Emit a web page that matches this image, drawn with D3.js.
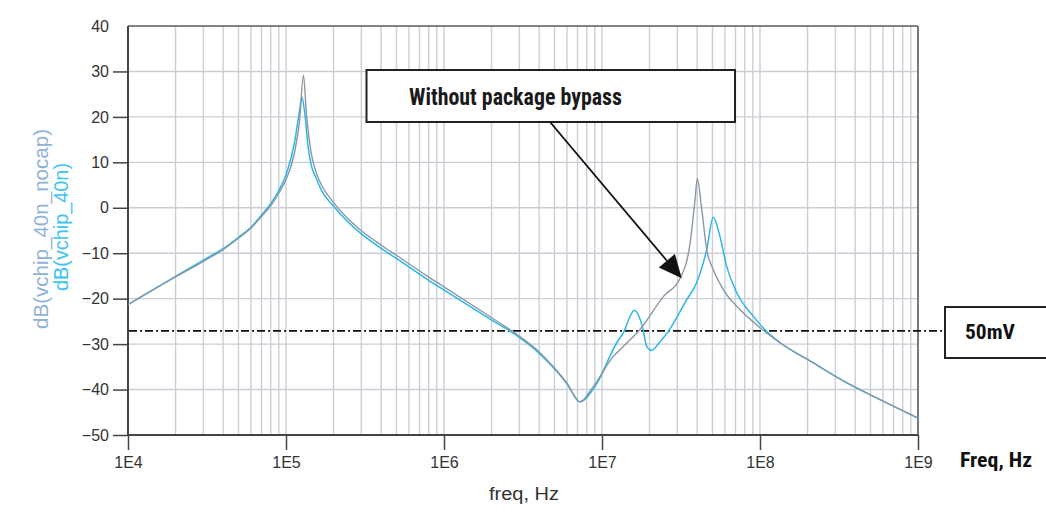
<!DOCTYPE html>
<html>
<head>
<meta charset="utf-8">
<script src="https://cdn.jsdelivr.net/npm/d3@7"></script>
<style>
  html, body { margin: 0; padding: 0; background: #ffffff; }
  svg { display: block; }
</style>
</head>
<body>
<svg id="chart" width="1046" height="512"></svg>
<script>
// Frequency response of the chip supply node, two cases (dB vs Hz)
const xTickValues = [1e4, 1e5, 1e6, 1e7, 1e8, 1e9];
const xTickLabels = ["1E4", "1E5", "1E6", "1E7", "1E8", "1E9"];
const yTickValues = [40, 30, 20, 10, 0, -10, -20, -30, -40, -50];

// dB(vchip_40n_nocap): without package bypass capacitor
const freqNocap = [1e4, 2e4, 3e4, 4e4, 5e4, 6e4, 7e4, 8e4, 9e4, 1e5, 1.13e5, 1.22e5, 1.29e5,
  1.348e5, 1.439e5, 1.548e5, 1.69e5, 1.984e5, 2.433e5, 3.014e5, 4.034e5, 5.019e5, 7.955e5, 1e6,
  2.004e6, 2.745e6, 4.052e6, 5.977e6, 7.257e6, 8.82e6, 1.18e7, 1.365e7, 1.74e7, 2.45e7,
  3.12e7, 3.61e7, 3.88e7, 4.01e7, 4.28e7, 4.6e7, 5.06e7, 5.86e7, 7.47e7, 1e8, 1.34e8,
  2.17e8, 3.54e8, 5.75e8, 1e9];
const dbNocap = [-21.3, -15.2, -11.8, -9.2, -6.7, -4.5, -1.9, 0.4, 3.2, 6.2, 12.0, 19.3, 29.2,
  20.4, 12.3, 7.9, 4.8, 1.3, -2.2, -5.1, -8.3, -10.5, -15.2, -17.4,
  -24.2, -27.3, -31.9, -38.5, -42.7, -39.3, -32.7, -30.5, -26.8, -19.5,
  -15.5, -7.8, 1.8, 6.4, -0.4, -9.2, -13.6, -18.0, -22.4, -26.4, -29.7,
  -34.1, -38.5, -42.2, -46.3];

// dB(vchip_40n): with package bypass capacitor
const freq40n = [1e4, 2e4, 3e4, 4e4, 5e4, 6e4, 7e4, 8e4, 9e4, 1e5, 1.13e5, 1.22e5, 1.26e5,
  1.319e5, 1.378e5, 1.44e5, 1.548e5, 1.69e5, 1.984e5, 2.433e5, 3.014e5, 4.034e5, 5.019e5,
  7.955e5, 1e6, 2.004e6, 2.745e6, 4.052e6, 5.977e6, 7.257e6, 9.04e6, 1.24e7, 1.365e7, 1.6e7,
  1.8e7, 1.92e7, 2.065e7, 2.3e7, 2.63e7, 3.44e7, 3.97e7, 4.6e7, 5.06e7, 5.58e7, 6.15e7,
  7.13e7, 9.08e7, 1.1e8, 1.34e8, 2.17e8, 3.54e8, 5.75e8, 1e9];
const db40n = [-21.3, -15.1, -11.5, -9.0, -6.5, -4.3, -1.6, 0.9, 3.8, 7.2, 14.2, 21.5, 24.4,
  20.4, 13.5, 9.6, 6.6, 3.6, 0.5, -2.9, -5.8, -9.0, -11.2,
  -15.9, -18.1, -24.7, -27.6, -32.2, -38.6, -42.7, -39.3, -29.7, -27.5, -22.6,
  -26.1, -30.5, -31.4, -29.7, -27.2, -20.2, -16.5, -9.2, -2.1, -6.3, -12.9,
  -18.7, -23.9, -27.2, -29.7, -34.1, -38.5, -42.2, -46.3];

// 50 mV reference level
const limitDb = -27.1;
const limitLabel = "50mV";
const noteLabel = "Without package bypass";

const svg = d3.select("#chart");
const plotLeft = 128, plotRight = 918, plotTop = 26, plotBottom = 435;

const x = d3.scaleLog().domain([1e4, 1e9]).range([plotLeft, plotRight]);
const y = d3.scaleLinear().domain([-50, 40]).range([plotBottom, plotTop]);

const sans = "'Liberation Sans', Arial, Helvetica, sans-serif";
const boldNarrow = "'Liberation Sans Narrow', 'Roboto Condensed', 'DejaVu Sans Condensed', 'Liberation Sans', Arial, sans-serif";

// grid
const minorFreqs = [];
for (let e = 4; e < 9; e++) for (let m = 1; m <= 9; m++) minorFreqs.push(m * Math.pow(10, e));
minorFreqs.push(1e9);

const grid = svg.append("g").attr("stroke", "#cbced6").attr("stroke-width", 1.4);
grid.selectAll("line.v").data(minorFreqs).join("line")
  .attr("x1", d => x(d)).attr("x2", d => x(d))
  .attr("y1", plotTop).attr("y2", plotBottom);
grid.selectAll("line.h").data(yTickValues.filter(v => v > -50 && v < 40)).join("line")
  .attr("x1", plotLeft).attr("x2", plotRight)
  .attr("y1", d => y(d)).attr("y2", d => y(d));

// frame
svg.append("line").attr("x1", plotLeft).attr("x2", plotRight).attr("y1", plotTop).attr("y2", plotTop)
  .attr("stroke", "#5a5a5a").attr("stroke-width", 1.5);
svg.append("line").attr("x1", plotRight).attr("x2", plotRight).attr("y1", plotTop).attr("y2", plotBottom)
  .attr("stroke", "#5a5a5a").attr("stroke-width", 1.5);

// axes
const yAxis = svg.append("g").attr("transform", `translate(${plotLeft},0)`)
  .call(d3.axisLeft(y).tickValues(yTickValues).tickSize(15).tickPadding(4).tickFormat(d3.format("d")));
yAxis.select(".domain").remove();
yAxis.selectAll(".tick line").attr("stroke", "#444").attr("stroke-width", 1.5)
  .filter(d => d === 40).remove();
yAxis.selectAll(".tick text").attr("font-family", sans).attr("font-size", 16).attr("fill", "#333");

const xAxis = svg.append("g").attr("transform", `translate(0,${plotBottom})`)
  .call(d3.axisBottom(x).tickValues(xTickValues).tickSize(15).tickPadding(7)
    .tickFormat((d, i) => xTickLabels[i]));
xAxis.select(".domain").remove();
xAxis.selectAll(".tick line").attr("stroke", "#444").attr("stroke-width", 1.5);
xAxis.selectAll(".tick text").attr("font-family", sans).attr("font-size", 16).attr("fill", "#333");

svg.append("line").attr("x1", plotLeft).attr("x2", plotLeft).attr("y1", plotTop).attr("y2", plotBottom)
  .attr("stroke", "#444").attr("stroke-width", 2);
svg.append("line").attr("x1", plotLeft).attr("x2", plotRight).attr("y1", plotBottom).attr("y2", plotBottom)
  .attr("stroke", "#444").attr("stroke-width", 2);

// reference level
svg.append("line")
  .attr("x1", plotLeft + 1).attr("x2", 946)
  .attr("y1", y(limitDb)).attr("y2", y(limitDb))
  .attr("stroke", "#111").attr("stroke-width", 1.8)
  .attr("stroke-dasharray", "8,3,2,3");

// traces
const line = d3.line().x(d => x(d[0])).y(d => y(d[1])).curve(d3.curveMonotoneX);
const series = [
  { f: freq40n, v: db40n, color: "#2bb6e6", w: 1.5 },
  { f: freqNocap, v: dbNocap, color: "#8b97a6", w: 1.4 }
];
series.forEach(s => {
  svg.append("path")
    .datum(s.f.map((f, i) => [f, s.v[i]]))
    .attr("fill", "none")
    .attr("stroke", s.color)
    .attr("stroke-width", s.w)
    .attr("stroke-linejoin", "round")
    .attr("d", line);
});

// axis titles
svg.append("text").attr("x", 524).attr("y", 500).attr("text-anchor", "middle")
  .attr("font-family", sans).attr("font-size", 18).attr("fill", "#333")
  .attr("textLength", 70).attr("lengthAdjust", "spacingAndGlyphs")
  .text("freq, Hz");

svg.append("text").attr("transform", "translate(48,229) rotate(-90)").attr("text-anchor", "middle")
  .attr("font-family", sans).attr("font-size", 19.5).attr("fill", "#8fb2d6")
  .attr("textLength", 200).attr("lengthAdjust", "spacingAndGlyphs")
  .text("dB(vchip_40n_nocap)");
svg.append("text").attr("transform", "translate(68,227) rotate(-90)").attr("text-anchor", "middle")
  .attr("font-family", sans).attr("font-size", 19.5).attr("fill", "#3ec3f0")
  .attr("textLength", 128).attr("lengthAdjust", "spacingAndGlyphs")
  .text("dB(vchip_40n)");

svg.append("text").attr("x", 960).attr("y", 467)
  .attr("font-family", boldNarrow).attr("font-weight", "bold").attr("font-size", 21).attr("fill", "#111")
  .attr("textLength", 72).attr("lengthAdjust", "spacingAndGlyphs")
  .text("Freq, Hz");

// 50 mV label box
svg.append("rect").attr("x", 945).attr("y", 307).attr("width", 110).attr("height", 51)
  .attr("fill", "#fff").attr("stroke", "#222").attr("stroke-width", 2);
svg.append("text").attr("x", 965).attr("y", 339)
  .attr("font-family", boldNarrow).attr("font-weight", "bold").attr("font-size", 20).attr("fill", "#111")
  .attr("textLength", 50).attr("lengthAdjust", "spacingAndGlyphs")
  .text(limitLabel);

// annotation with arrow
svg.append("rect").attr("x", 366.5).attr("y", 70).attr("width", 368.5).attr("height", 52)
  .attr("fill", "#fff").attr("stroke", "#222").attr("stroke-width", 2);
svg.append("text").attr("x", 409).attr("y", 105)
  .attr("font-family", boldNarrow).attr("font-weight", "bold").attr("font-size", 23).attr("fill", "#1a1a1a")
  .attr("textLength", 213).attr("lengthAdjust", "spacingAndGlyphs")
  .text(noteLabel);

const a0 = [550, 122], a1 = [681.7, 278.3];
const ang = Math.atan2(a1[1] - a0[1], a1[0] - a0[0]);
const headLen = 23, headHalf = 10.5;
const base = [a1[0] - headLen * Math.cos(ang), a1[1] - headLen * Math.sin(ang)];
svg.append("line").attr("x1", a0[0]).attr("y1", a0[1]).attr("x2", base[0]).attr("y2", base[1])
  .attr("stroke", "#111").attr("stroke-width", 1.8);
svg.append("path")
  .attr("d", `M${a1[0]},${a1[1]} L${base[0] + headHalf * Math.sin(ang)},${base[1] - headHalf * Math.cos(ang)} L${base[0] - headHalf * Math.sin(ang)},${base[1] + headHalf * Math.cos(ang)} Z`)
  .attr("fill", "#111");
</script>
</body>
</html>
